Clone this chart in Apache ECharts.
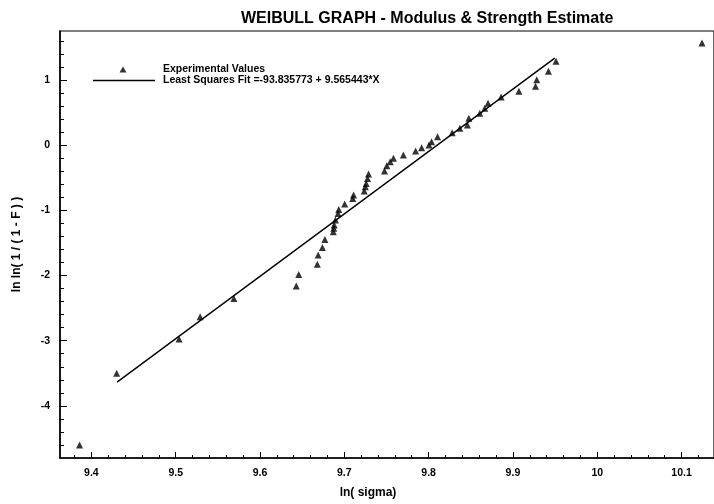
<!DOCTYPE html>
<html>
<head>
<meta charset="utf-8">
<script src="https://cdn.jsdelivr.net/npm/echarts@6/dist/echarts.min.js"></script>
<style>html,body{margin:0;padding:0;background:#fff}#c{width:714px;height:504px}</style>
</head>
<body>
<div id="c"></div>
<script>
var expX = [9.386, 9.430, 9.504, 9.529, 9.569, 9.643, 9.646, 9.668, 9.669, 9.674,
            9.677, 9.687, 9.6875, 9.688, 9.6895, 9.6926, 9.6934, 9.7005, 9.710, 9.711,
            9.7237, 9.7249, 9.726, 9.7276, 9.7288, 9.7477, 9.7504, 9.7544, 9.7583, 9.7701,
            9.7846, 9.7917, 9.8005, 9.8035, 9.8106, 9.828, 9.8371, 9.846, 9.8477, 9.8607,
            9.8666, 9.8705, 9.886, 9.9071, 9.9268, 9.9283, 9.9421, 9.9511, 10.1243];
var expY = [-4.60, -3.50, -2.975, -2.633, -2.351, -2.162, -1.982, -1.828, -1.686, -1.568,
            -1.445, -1.328, -1.276, -1.225, -1.148, -1.046, -0.985, -0.903, -0.816, -0.765,
            -0.703, -0.637, -0.586, -0.509, -0.442, -0.396, -0.315, -0.253, -0.201, -0.150,
            -0.089, -0.038, 0.003, 0.054, 0.131, 0.192, 0.259, 0.310, 0.413, 0.489,
            0.566, 0.643, 0.74, 0.827, 0.904, 1.006, 1.134, 1.288, 1.569];
var fitX = [9.4305, 9.9496];
var fitY = [-3.635, 1.337];
var xTicks = [9.4, 9.5, 9.6, 9.7, 9.8, 9.9, 10, 10.1];
var yTicks = [-4, -3, -2, -1, 0, 1];
var title = 'WEIBULL GRAPH - Modulus & Strength Estimate';
var expName = 'Experimental Values';
var fitName = 'Least Squares Fit =-93.835773 + 9.565443*X';

var xMin = 9.3628, xMax = 10.1385, yMin = -4.8, yMax = 1.753;
var xMinor = [], yMinor = [];
for (var i = 0; i <= 40; i++) { var v = Math.round((9.36 + i * 0.02) * 100) / 100; if (v > xMin && v < xMax) xMinor.push(v); }
for (var j = 0; j <= 40; j++) { var w = Math.round((-4.8 + j * 0.2) * 10) / 10; if (w > yMin && w < yMax) yMinor.push(w); }

var scatterData = expX.map(function (x, k) { return [x, expY[k]]; });
var lineData = fitX.map(function (x, k) { return [x, fitY[k]]; });

var font = 'Liberation Sans, Arial, sans-serif';
var chart = echarts.init(document.getElementById('c'), null, {renderer: 'canvas'});
chart.setOption({
  backgroundColor: '#fff',
  animation: false,
  title: {
    text: title, left: 236, top: 6,
    textStyle: {fontFamily: font, fontSize: 16, fontWeight: 'bold', color: '#000'}
  },
  legend: [
    {
      data: [{name: expName, icon: 'triangle'}],
      left: 114.5, top: 59, itemWidth: 7, itemHeight: 6, orient: 'vertical',
      textStyle: {fontFamily: font, fontSize: 10.5, fontWeight: 'bold', color: '#000', padding: [0, 0, 0, 31.5]}
    },
    {
      data: [{name: fitName, icon: 'rect'}],
      left: 88, top: 70, itemWidth: 62, itemHeight: 1.5, orient: 'vertical',
      textStyle: {fontFamily: font, fontSize: 10.5, fontWeight: 'bold', color: '#000', padding: [0, 0, 0, 3]}
    }
  ],
  grid: {left: 60, right: -3, top: 31, bottom: 46, show: true, borderColor: '#000', borderWidth: 1.2, backgroundColor: 'transparent'},
  xAxis: [
    {
      type: 'value', min: xMin, max: xMax, position: 'bottom',
      name: 'ln( sigma)', nameLocation: 'middle', nameGap: 29,
      nameTextStyle: {fontFamily: font, fontSize: 12, fontWeight: 'bold', color: '#000', padding: [0, 38, 0, 0]},
      axisLine: {show: true, onZero: false, lineStyle: {color: '#000', width: 1.5}},
      axisTick: {show: true, inside: true, length: 6, customValues: xTicks, lineStyle: {color: '#000', width: 1}},
      axisLabel: {show: true, customValues: xTicks, margin: 10, fontFamily: font, fontSize: 10.5, fontWeight: 'bold', color: '#000',
                  formatter: function (v) { return String(Math.round(v * 10) / 10); }},
      splitLine: {show: false}
    },
    {
      type: 'value', min: xMin, max: xMax, position: 'bottom',
      axisLine: {show: false, onZero: false},
      axisTick: {show: true, inside: true, length: 3, customValues: xMinor, lineStyle: {color: '#000', width: 1}},
      axisLabel: {show: false},
      splitLine: {show: false}
    }
  ],
  yAxis: [
    {
      type: 'value', min: yMin, max: yMax, position: 'left',
      name: 'ln ln( 1 / ( 1 - F ) )', nameLocation: 'middle', nameGap: 37, nameRotate: 90,
      nameTextStyle: {fontFamily: font, fontSize: 12, fontWeight: 'bold', color: '#000'},
      axisLine: {show: true, onZero: false, lineStyle: {color: '#000', width: 1.5}},
      axisTick: {show: true, inside: true, length: 7, customValues: yTicks, lineStyle: {color: '#000', width: 1}},
      axisLabel: {show: true, customValues: yTicks, margin: 10, fontFamily: font, fontSize: 10.5, fontWeight: 'bold', color: '#000'},
      splitLine: {show: false}
    },
    {
      type: 'value', min: yMin, max: yMax, position: 'left',
      axisLine: {show: false, onZero: false},
      axisTick: {show: true, inside: true, length: 4, customValues: yMinor, lineStyle: {color: '#000', width: 1}},
      axisLabel: {show: false},
      splitLine: {show: false}
    }
  ],
  series: [
    {
      name: expName, type: 'scatter', xAxisIndex: 0, yAxisIndex: 0,
      symbol: 'triangle', symbolSize: 7,
      itemStyle: {color: '#000'},
      data: scatterData
    },
    {
      name: fitName, type: 'line', xAxisIndex: 0, yAxisIndex: 0,
      showSymbol: false, symbol: 'none',
      lineStyle: {color: '#000', width: 1.4},
      itemStyle: {color: '#000'},
      data: lineData
    }
  ]
});
</script>
</body>
</html>
